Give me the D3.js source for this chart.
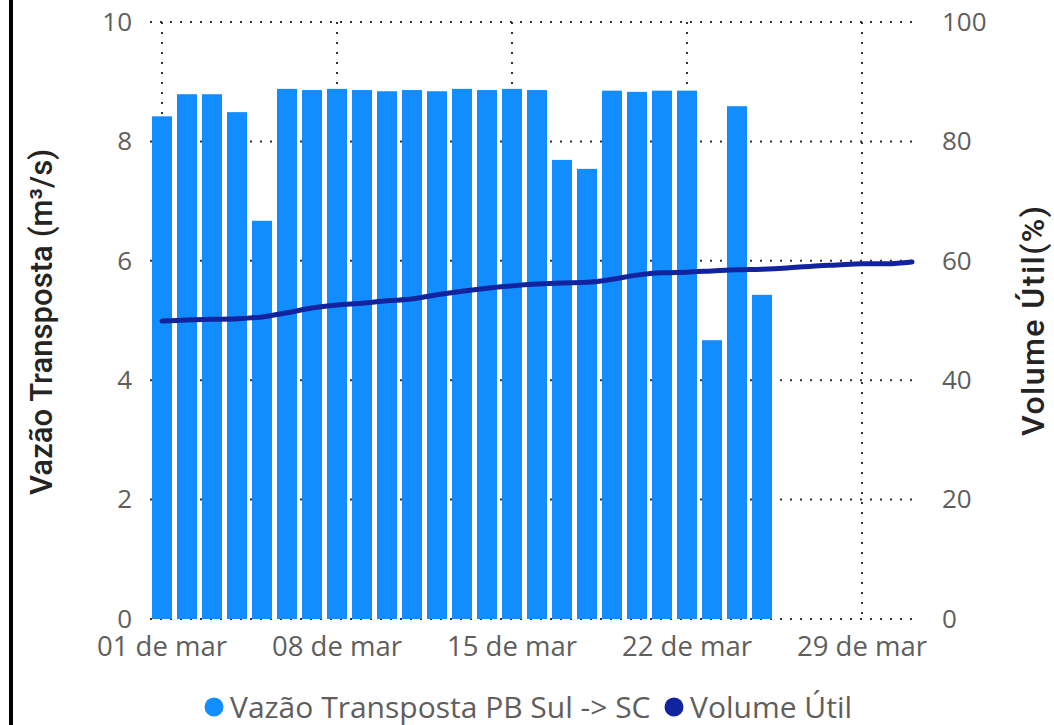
<!DOCTYPE html>
<html>
<head>
<meta charset="utf-8">
<script src="https://cdn.jsdelivr.net/npm/d3@7"></script>
<style>
  html, body { margin: 0; padding: 0; background: #fff; overflow: hidden; }
  svg { display: block; }
</style>
</head>
<body>
<div id="chart"></div>
<script>
// days of march shown on the x axis
const days = d3.range(1, 32);
// Vazão Transposta PB Sul -> SC (m3/s), one value per day (01..25 mar)
const vazao = [8.42, 8.79, 8.79, 8.49, 6.67, 8.88, 8.86, 8.88, 8.86, 8.84,
  8.86, 8.84, 8.88, 8.86, 8.88, 8.86, 7.69, 7.54, 8.85, 8.83,
  8.85, 8.85, 4.67, 8.59, 5.43];
// Volume Útil (%), one value per day (01..31 mar)
const volume = [49.9, 50.1, 50.2, 50.3, 50.6, 51.3, 52.1, 52.6, 52.9, 53.3,
  53.6, 54.3, 54.9, 55.4, 55.8, 56.1, 56.3, 56.4, 56.9, 57.6,
  58.0, 58.1, 58.3, 58.5, 58.6, 58.8, 59.1, 59.3, 59.5, 59.5, 59.8];
const leftTicks = [0, 2, 4, 6, 8, 10];
const rightTicks = [0, 20, 40, 60, 80, 100];
const xTickDays = [1, 8, 15, 22, 29];
const xTickLabels = ["01 de mar", "08 de mar", "15 de mar", "22 de mar", "29 de mar"];
const seriesNames = ["Vazão Transposta PB Sul -> SC", "Volume Útil"];

const barColor = "#118DFF";
const lineColor = "#12239E";
const tickColor = "#605E5C";
const titleColor = "#252423";
const tickFont = "'Open Sans', 'Noto Sans', sans-serif";
const titleFont = "Roboto, 'Noto Sans', sans-serif";

const width = 1054, height = 725;
const plot = { left: 150, right: 920, top: 22, bottom: 619 };

const svg = d3.select("#chart").append("svg")
  .attr("width", width)
  .attr("height", height);

// black border on the left edge
svg.append("rect")
  .attr("x", 9).attr("y", 0)
  .attr("width", 4).attr("height", height)
  .attr("fill", "#000");

// scales
const x = d3.scaleBand()
  .domain(days)
  .range([149.5, 924.5])
  .paddingInner(0.2)
  .paddingOuter(0.1);

const yLeft = d3.scaleLinear().domain([0, 10]).range([plot.bottom, plot.top]);
const yRight = d3.scaleLinear().domain([0, 100]).range([plot.bottom, plot.top]);

const cx = (d) => x(d) + x.bandwidth() / 2;

// gridlines
const grid = svg.append("g").attr("class", "grid");
grid.selectAll("line.h")
  .data(leftTicks)
  .join("line")
  .attr("class", "h")
  .attr("x1", plot.left).attr("x2", plot.right)
  .attr("y1", (d) => yLeft(d)).attr("y2", (d) => yLeft(d))
  .attr("stroke", "#333")
  .attr("stroke-width", 2)
  .attr("stroke-dasharray", "2,8");

grid.selectAll("line.v")
  .data(xTickDays)
  .join("line")
  .attr("class", "v")
  .attr("x1", (d) => cx(d)).attr("x2", (d) => cx(d))
  .attr("y1", plot.top).attr("y2", plot.bottom)
  .attr("stroke", "#333")
  .attr("stroke-width", 2)
  .attr("stroke-dasharray", "2,8");

// bars
svg.append("g")
  .selectAll("rect")
  .data(vazao)
  .join("rect")
  .attr("x", (d, i) => x(days[i]))
  .attr("y", (d) => yLeft(d))
  .attr("width", x.bandwidth())
  .attr("height", (d) => yLeft(0) - yLeft(d))
  .attr("fill", barColor);

// line
const line = d3.line()
  .x((d, i) => cx(days[i]))
  .y((d) => yRight(d))
  .curve(d3.curveMonotoneX);

svg.append("path")
  .datum(volume)
  .attr("d", line)
  .attr("fill", "none")
  .attr("stroke", lineColor)
  .attr("stroke-width", 5)
  .attr("stroke-linecap", "round")
  .attr("stroke-linejoin", "round");

// left axis
const leftAxis = svg.append("g")
  .attr("transform", `translate(${plot.left - 18},0)`)
  .call(d3.axisLeft(yLeft).tickValues(leftTicks).tickSize(0).tickPadding(0));
leftAxis.select(".domain").remove();
leftAxis.selectAll("text")
  .attr("fill", tickColor)
  .style("font-family", tickFont)
  .style("font-size", "26px");

// right axis
const rightAxis = svg.append("g")
  .attr("transform", `translate(${plot.right + 22},0)`)
  .call(d3.axisRight(yRight).tickValues(rightTicks).tickSize(0).tickPadding(0));
rightAxis.select(".domain").remove();
rightAxis.selectAll("text")
  .attr("fill", tickColor)
  .style("font-family", tickFont)
  .style("font-size", "26px");

// x axis
const xAxis = svg.append("g")
  .attr("transform", `translate(0,${plot.bottom + 17})`)
  .call(d3.axisBottom(x).tickValues(xTickDays)
    .tickFormat((d, i) => xTickLabels[i]).tickSize(0).tickPadding(0));
xAxis.select(".domain").remove();
xAxis.selectAll("text")
  .attr("fill", tickColor)
  .attr("dy", "0.71em")
  .style("font-family", tickFont)
  .style("font-size", "27.5px");

// axis titles
svg.append("text")
  .attr("transform", "translate(52,322) rotate(-90)")
  .attr("text-anchor", "middle")
  .attr("fill", titleColor)
  .attr("textLength", 346)
  .attr("lengthAdjust", "spacing")
  .style("font-family", titleFont)
  .style("font-weight", 500)
  .style("font-size", "31px")
  .text("Vazão Transposta (m³/s)");

svg.append("text")
  .attr("transform", "translate(1044,321) rotate(-90)")
  .attr("text-anchor", "middle")
  .attr("fill", titleColor)
  .attr("textLength", 230)
  .attr("lengthAdjust", "spacing")
  .style("font-family", titleFont)
  .style("font-weight", 500)
  .style("font-size", "32px")
  .text("Volume Útil(%)");

// legend
const legend = svg.append("g").attr("transform", "translate(0,707)");
const legendItems = [
  { name: seriesNames[0], color: barColor, x: 214 },
  { name: seriesNames[1], color: lineColor, x: 674 },
];
legendItems.forEach((item) => {
  legend.append("circle")
    .attr("cx", item.x).attr("cy", 0)
    .attr("r", 9.5)
    .attr("fill", item.color);
  legend.append("text")
    .attr("x", item.x + 16).attr("y", 0)
    .attr("dy", "0.35em")
    .attr("fill", tickColor)
    .style("font-family", tickFont)
    .style("font-size", "30px")
    .text(item.name);
});
</script>
</body>
</html>
